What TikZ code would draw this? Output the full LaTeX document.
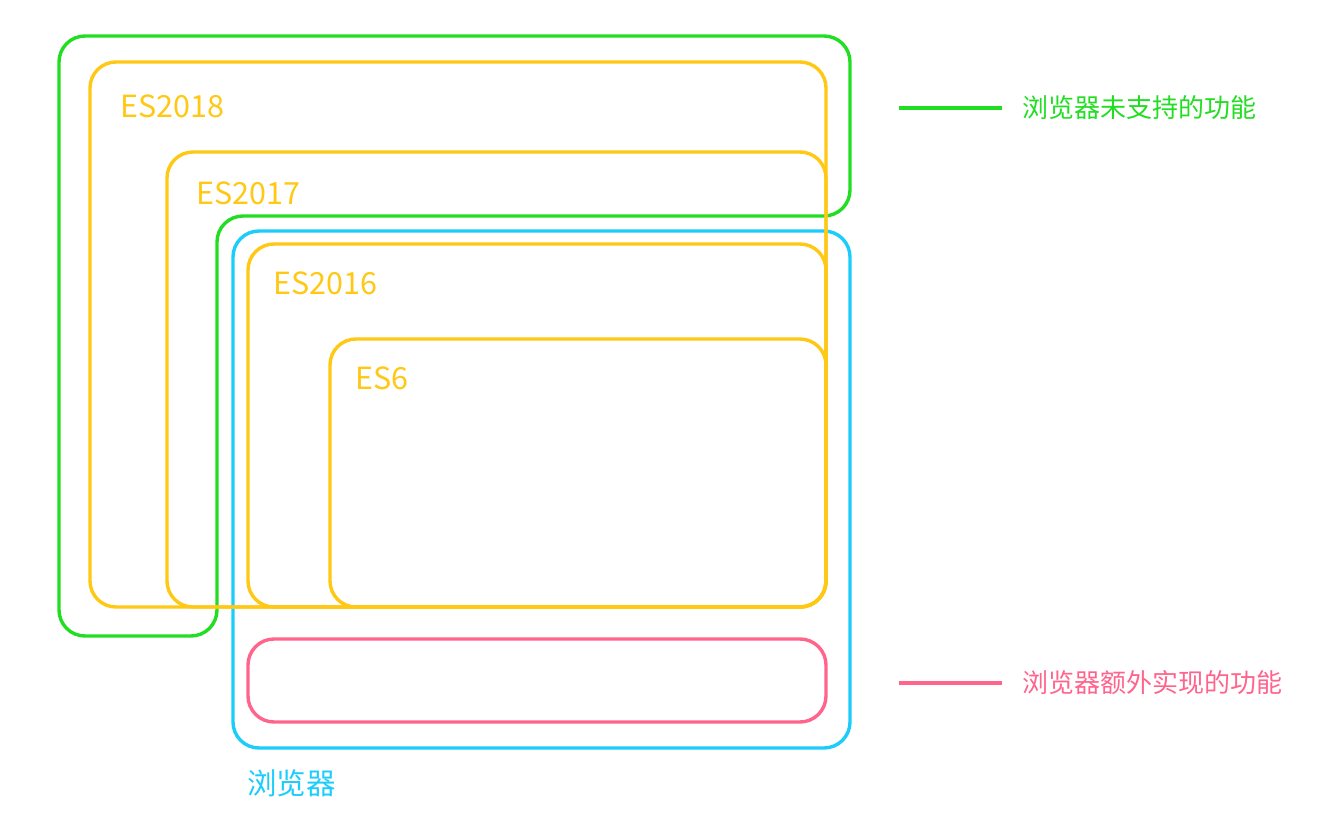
\documentclass[tikz,border=0pt]{standalone}
\usepackage{fontspec}
\setmainfont{Noto Sans CJK SC}
\usepackage{tikz}
\usepackage{xcolor}
\definecolor{esgreen}{RGB}{34,222,34}
\definecolor{esyellow}{RGB}{255,200,20}
\definecolor{esblue}{RGB}{28,204,250}
\definecolor{espink}{RGB}{255,100,140}

\begin{document}
\begin{tikzpicture}[x=1pt,y=-1pt,
  box/.style={line width=3.4pt,rounded corners=26pt},
  eslabel/.style={esyellow,anchor=base west,inner sep=0pt,font=\fontsize{30.5}{36}\selectfont},
  legend/.style={anchor=west,inner sep=0pt,font=\fontsize{26}{31}\selectfont}]

\useasboundingbox (0,0) rectangle (1340,826);

% browser and unsupported features
\draw[box,esgreen] (59,36) -- (850,36) -- (850,216) -- (217,216) -- (217,636) -- (59,636) -- cycle;
\draw[box,esblue] (233,231) rectangle (850,748);
\draw[box,espink] (248,639) rectangle (826,722);

% spec versions
\draw[box,esyellow] (90,62) rectangle (826,607);
\draw[box,esyellow] (167,152) rectangle (826,607);
\draw[box,esyellow] (248,244) rectangle (826,607);
\draw[box,esyellow] (330,339) rectangle (826,607);

\node[eslabel] (es2018) at (120,118) {ES2018};
\node[eslabel] (es2017) at (196,205) {ES2017};
\node[eslabel] (es2016) at (273,294) {ES2016};
\node[eslabel] (es6) at (355,389) {ES6};

\node[legend,esblue,font=\fontsize{29.5}{34}\selectfont] (browser) at (247,783) {浏览器};

% legend
\coordinate (g1) at (899,108);
\coordinate (g2) at (1002,108);
\draw[line width=3.4pt,esgreen] (g1) -- (g2);
\node[legend,esgreen] (gtext) at (1022,108) {浏览器未支持的功能};

\coordinate (p1) at (899,683);
\coordinate (p2) at (1002,683);
\draw[line width=3.4pt,espink] (p1) -- (p2);
\node[legend,espink] (ptext) at (1022,683) {浏览器额外实现的功能};

\end{tikzpicture}
\end{document}
